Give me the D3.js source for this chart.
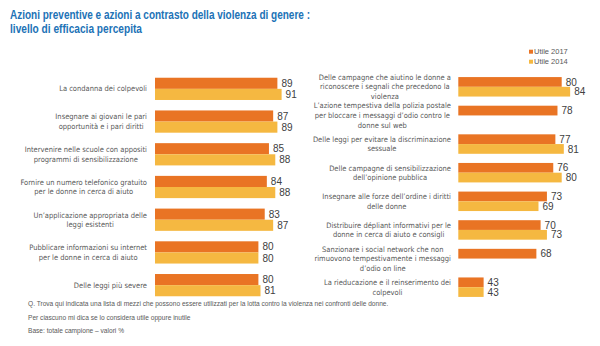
<!DOCTYPE html>
<html>
<head>
<meta charset="utf-8">
<script src="https://cdn.jsdelivr.net/npm/d3@7"></script>
<style>
  body { margin: 0; background: #fff; }
  svg { display: block; }
  .cat { font-family: "Liberation Sans Narrow", "DejaVu Sans Condensed", sans-serif; font-size: 7.5px; fill: #595959; }
  .val { font-family: "Liberation Sans Narrow", "Liberation Sans", sans-serif; font-size: 10px; fill: #404040; }
  .title { font-family: "Liberation Sans Narrow", "Liberation Sans", sans-serif; font-size: 12.5px; font-weight: bold; fill: #2172b6; }
  .note { font-family: "Liberation Sans Narrow", "Liberation Sans", sans-serif; font-size: 6.6px; fill: #595959; }
  .leg { font-family: "Liberation Sans Narrow", sans-serif; font-size: 7.5px; fill: #595959; }
</style>
</head>
<body>
<svg width="600" height="346"></svg>
<script>
var series = ["Utile 2017", "Utile 2014"];
var colors = ["#e97424", "#f5b841"];

var leftCats = [
  "La condanna dei colpevoli",
  "Insegnare ai giovani le pari\nopportunità e i pari diritti",
  "Intervenire nelle scuole con appositi\nprogrammi di sensibilizzazione",
  "Fornire un numero telefonico gratuito\nper le donne in cerca di aiuto",
  "Un’applicazione appropriata delle\nleggi esistenti",
  "Pubblicare informazioni su internet\nper le donne in cerca di aiuto",
  "Delle leggi più severe"
];
var left2017 = [89, 87, 85, 84, 83, 80, 80];
var left2014 = [91, 89, 88, 88, 87, 80, 81];

var rightCats = [
  "Delle campagne che aiutino le donne a\nriconoscere i segnali che precedono la\nviolenza",
  "L’azione tempestiva della polizia postale\nper bloccare i messaggi d’odio contro le\ndonne sul web",
  "Delle leggi per evitare la discriminazione\nsessuale",
  "Delle campagne di sensibilizzazione\ndell’opinione pubblica",
  "Insegnare alle forze dell’ordine i diritti\ndelle donne",
  "Distribuire dépliant informativi per le\ndonne in cerca di aiuto e consigli",
  "Sanzionare i social network che non\nrimuovono tempestivamente i messaggi\nd’odio on line",
  "La rieducazione e il reinserimento dei\ncolpevoli"
];
var right2017 = [80, 78, 77, 76, 73, 70, 68, 43];
var right2014 = [84, null, 81, 80, 69, 73, null, 43];

var titleLines = [
  "Azioni preventive e azioni a contrasto della violenza di genere :",
  "livello di efficacia percepita"
];
var notes = [
  "Q. Trova qui indicata una lista di mezzi che possono essere utilizzati per la lotta contro la violenza nei confronti delle donne.",
  "Per ciascuno mi dica se lo considera utile oppure inutile",
  "Base: totale campione – valori %"
];

var svg = d3.select("svg");

// title (squeezed to the width the original font takes)
var titleW = [300, 132];
svg.append("g").selectAll("text").data(titleLines).enter().append("text")
  .attr("class", "title")
  .attr("x", 10)
  .attr("y", function (d, i) { return 18.5 + i * 14; })
  .attr("textLength", function (d, i) { return titleW[i]; })
  .attr("lengthAdjust", "spacingAndGlyphs")
  .text(function (d) { return d; });

function panel(cats, v17, v14, x0, labelRight) {
  var rows = cats.map(function (c, i) { return { cat: c, vals: [v17[i], v14[i]] }; });
  var y = d3.scaleBand().domain(cats).range([72.5, 301.5]).paddingInner(0.32).paddingOuter(0.16);
  var ys = d3.scaleBand().domain(series).range([0, y.bandwidth()]);
  var x = d3.scaleLinear().domain([31, 100]).range([x0, x0 + 145.6]);

  var g = svg.append("g");
  var grp = g.selectAll("g.row").data(rows).enter().append("g")
    .attr("class", "row")
    .attr("transform", function (d) { return "translate(0," + y(d.cat) + ")"; });

  var cells = grp.selectAll("g.bar").data(function (d) {
    return d.vals.map(function (v, k) { return { s: series[k], v: v, k: k }; })
      .filter(function (e) { return e.v != null; });
  }).enter().append("g").attr("class", "bar");

  cells.append("rect")
    .attr("x", x(31))
    .attr("y", function (d) { return ys(d.s); })
    .attr("width", function (d) { return x(d.v) - x(31); })
    .attr("height", ys.bandwidth())
    .attr("fill", function (d) { return colors[d.k]; });

  cells.append("text")
    .attr("class", "val")
    .attr("x", function (d) { return x(d.v) + 4; })
    .attr("y", function (d) { return ys(d.s) + ys.bandwidth() / 2; })
    .attr("dy", "0.36em")
    .text(function (d) { return d.v; });

  // category labels: lines centred inside a block whose right edge is aligned
  grp.each(function (d) {
    var lines = d.cat.split("\n");
    var t = d3.select(this).append("text").attr("class", "cat");
    var lh = 9.6;
    var top = y.bandwidth() / 2 - (lines.length - 1) * lh / 2;
    var spans = t.selectAll("tspan").data(lines).enter().append("tspan")
      .attr("y", function (l, i) { return top + i * lh; })
      .attr("dy", "0.35em")
      .text(function (l) { return l; });
    var w = 0;
    spans.each(function () { w = Math.max(w, this.getComputedTextLength()); });
    spans.attr("x", labelRight - w / 2).attr("text-anchor", "middle");
  });
}

panel(leftCats, left2017, left2014, 155, 147);
panel(rightCats, right2017, right2014, 458.3, 451);

// legend
var leg = svg.append("g").selectAll("g").data(series).enter().append("g")
  .attr("transform", function (d, i) { return "translate(529," + (51.7 + i * 10) + ")"; });
leg.append("rect").attr("x", 0).attr("y", -2).attr("width", 4).attr("height", 4)
  .attr("fill", function (d, i) { return colors[i]; });
leg.append("text").attr("class", "leg").attr("x", 5).attr("dy", "0.35em")
  .text(function (d) { return d; });

// footnotes
svg.append("g").selectAll("text").data(notes).enter().append("text")
  .attr("class", "note")
  .attr("x", 28)
  .attr("y", function (d, i) { return 304 + i * 13.4; })
  .attr("dy", "0.35em")
  .text(function (d) { return d; });
</script>
</body>
</html>
